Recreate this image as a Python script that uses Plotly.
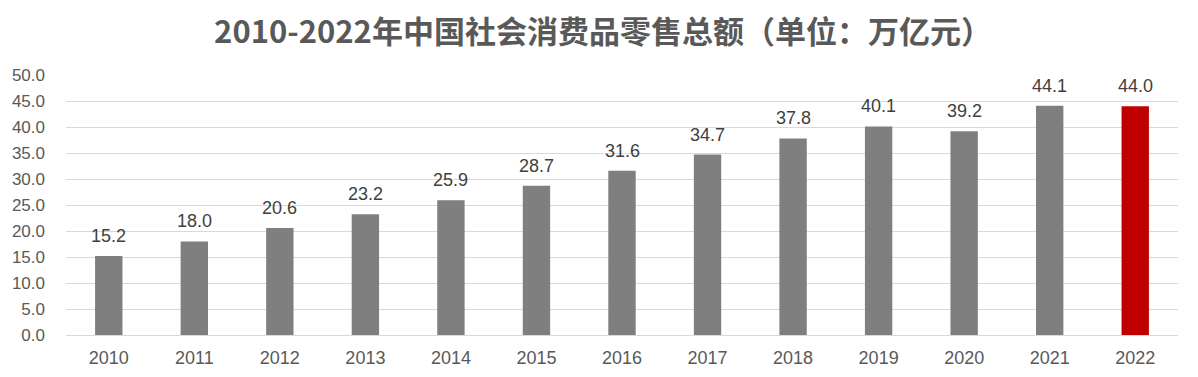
import plotly.graph_objects as go

years = ["2010","2011","2012","2013","2014","2015","2016","2017","2018","2019","2020","2021","2022"]
values = [15.2, 18.0, 20.6, 23.2, 25.9, 28.7, 31.6, 34.7, 37.8, 40.1, 39.2, 44.1, 44.0]
colors = ["#7F7F7F"] * 12 + ["#C00000"]
title = "2010-2022年中国社会消费品零售总额（单位：万亿元）"

fig = go.Figure(go.Bar(
    x=years, y=values, marker=dict(color=colors, line=dict(width=0)),
    width=0.32, cliponaxis=False,
))
for i, v in enumerate(values):
    fig.add_annotation(x=i, y=v, text=f"{v:.1f}", showarrow=False, yanchor="bottom",
                       yshift=8, font=dict(size=18, color="#404040", family="Liberation Sans"))
fig.update_layout(
    width=1190, height=369,
    margin=dict(l=58, r=20, t=67, b=42),
    paper_bgcolor="white", plot_bgcolor="white",
    title=dict(text="<b>" + title + "</b>", x=0.5, xanchor="center", y=0.935, yanchor="middle",
               font=dict(size=31, color="#595959", family="Noto Sans CJK SC")),
    font=dict(family="Noto Sans CJK SC, Liberation Sans", color="#595959"),
    showlegend=False,
)
fig.update_yaxes(range=[0, 50], dtick=5, tickformat=".1f", gridcolor="#D9D9D9", gridwidth=1,
                 tickfont=dict(size=17, color="#595959", family="Liberation Sans"), zeroline=False,
                 showline=False, ticks="", ticklabelstandoff=20, automargin=False)
fig.update_xaxes(type="category", range=[-0.5, len(years) - 0.5], showline=True, linecolor="#D9D9D9", linewidth=1,
                 tickfont=dict(size=18, color="#595959", family="Liberation Sans"),
                 ticks="", ticklabelstandoff=6, automargin=False)
fig.write_html("out.html")
